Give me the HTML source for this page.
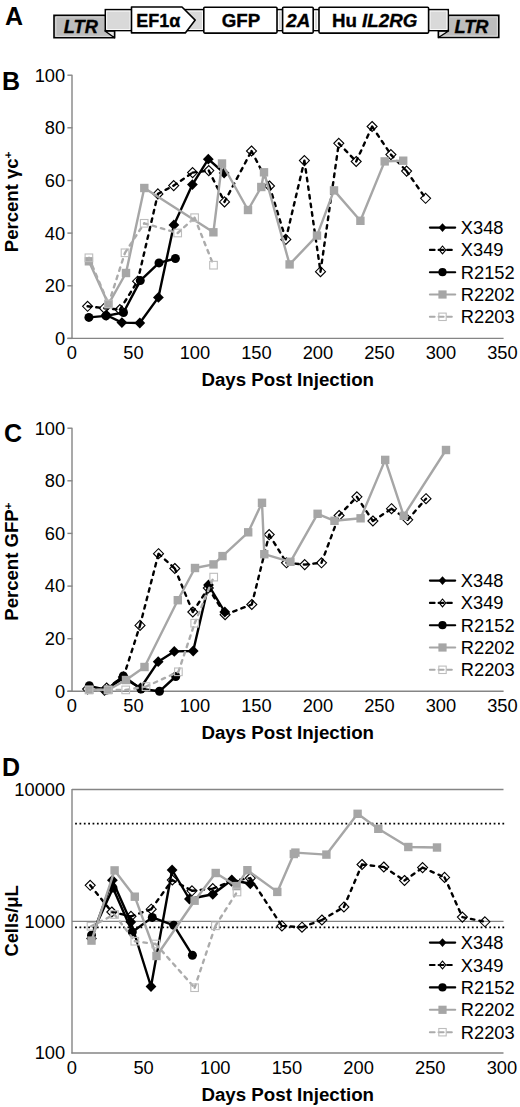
<!DOCTYPE html>
<html><head><meta charset="utf-8"><style>
html,body{margin:0;padding:0;background:#fff;}
body{width:520px;height:1107px;overflow:hidden;}
svg{display:block;font-family:"Liberation Sans", sans-serif;}
</style></head><body>
<svg width="520" height="1107" viewBox="0 0 520 1107" font-family='"Liberation Sans", sans-serif'>
<rect width="520" height="1107" fill="#fff"/>
<text transform="translate(5.00,24.80) scale(1.0,1)" font-size="25" font-weight="bold">A</text>
<polygon points="54,15.4 110,15.4 114.5,31 114.5,37.8 54,37.8" fill="#bdbdbd" stroke="#000" stroke-width="1.6"/>
<polyline points="104.5,16.9 55.9,16.9 55.9,36.3 112,36.3" fill="none" stroke="#dedede" stroke-width="0.9"/>
<polygon points="105,31 114.5,31 114.5,37.8" fill="#e8e8e8" stroke="#000" stroke-width="1.4" stroke-linejoin="round"/>
<polygon points="444,15.4 498.8,15.4 498.8,37.5 438.5,37.5 438.5,31" fill="#bdbdbd" stroke="#000" stroke-width="1.6"/>
<polyline points="449.5,16.9 497.3,16.9 497.3,36.0 441,36.0" fill="none" stroke="#dedede" stroke-width="0.9"/>
<polygon points="448.5,31 438.5,31 438.5,37.5" fill="#e8e8e8" stroke="#000" stroke-width="1.4" stroke-linejoin="round"/>
<rect x="105.3" y="9.6" width="343" height="21" fill="#d9d9d9" stroke="#000" stroke-width="1.5"/>
<rect x="106.7" y="11.1" width="23.4" height="18.4" fill="none" stroke="#fff" stroke-width="0.9"/>
<rect x="181.4" y="11.1" width="21.0" height="18.4" fill="none" stroke="#fff" stroke-width="0.9"/>
<rect x="278.4" y="11.1" width="2.8" height="18.4" fill="none" stroke="#fff" stroke-width="0.9"/>
<rect x="314.6" y="11.1" width="3.0" height="18.4" fill="none" stroke="#fff" stroke-width="0.9"/>
<rect x="430.0" y="11.1" width="16.9" height="18.4" fill="none" stroke="#fff" stroke-width="0.9"/>
<polygon points="131.5,7 182,7 195.2,20.1 185.3,32.9 131.5,32.9" fill="#fff" stroke="#000" stroke-width="1.6" stroke-linejoin="round"/>
<rect x="203.8" y="7.2" width="73.2" height="25.9" rx="1" fill="#fff" stroke="#000" stroke-width="1.6"/>
<rect x="282.6" y="7.2" width="30.6" height="25.9" rx="1" fill="#fff" stroke="#000" stroke-width="1.6"/>
<rect x="319" y="7.2" width="109.6" height="25.9" rx="1" fill="#fff" stroke="#000" stroke-width="1.6"/>
<text transform="translate(80.80,32.60) scale(1.04,1)" font-size="17.5" font-weight="bold" font-style="italic" text-anchor="middle" stroke="#000" stroke-width="0.35">LTR</text>
<text transform="translate(471.50,32.80) scale(1.04,1)" font-size="17.5" font-weight="bold" font-style="italic" text-anchor="middle" stroke="#000" stroke-width="0.35">LTR</text>
<text transform="translate(136.30,27.40) scale(1.0,1)" font-size="18" font-weight="bold" stroke="#000" stroke-width="0.35">EF1α</text>
<text transform="translate(240.90,27.40) scale(1.04,1)" font-size="18" font-weight="bold" text-anchor="middle" stroke="#000" stroke-width="0.35">GFP</text>
<text transform="translate(298.20,27.40) scale(1.04,1)" font-size="18" font-weight="bold" font-style="italic" text-anchor="middle" stroke="#000" stroke-width="0.35">2A</text>
<text transform="translate(374.60,27.40) scale(1.04,1)" font-size="18" font-weight="bold" text-anchor="middle" stroke="#000" stroke-width="0.35">Hu <tspan font-style="italic">IL2RG</tspan></text>
<text transform="translate(2.00,89.80) scale(1.0,1)" font-size="25" font-weight="bold">B</text>
<line x1="72" y1="75.2" x2="72" y2="338.9" stroke="#858585" stroke-width="1.4"/>
<line x1="67.4" y1="338.4" x2="503.6" y2="338.4" stroke="#858585" stroke-width="1.4"/>
<line x1="67.4" y1="338.4" x2="72.4" y2="338.4" stroke="#858585" stroke-width="1.4"/>
<text transform="translate(65.20,344.80) scale(1.04,1)" font-size="17.6" text-anchor="end">0</text>
<line x1="67.4" y1="285.8" x2="72.4" y2="285.8" stroke="#858585" stroke-width="1.4"/>
<text transform="translate(65.20,292.16) scale(1.04,1)" font-size="17.6" text-anchor="end">20</text>
<line x1="67.4" y1="233.1" x2="72.4" y2="233.1" stroke="#858585" stroke-width="1.4"/>
<text transform="translate(65.20,239.52) scale(1.04,1)" font-size="17.6" text-anchor="end">40</text>
<line x1="67.4" y1="180.5" x2="72.4" y2="180.5" stroke="#858585" stroke-width="1.4"/>
<text transform="translate(65.20,186.88) scale(1.04,1)" font-size="17.6" text-anchor="end">60</text>
<line x1="67.4" y1="127.8" x2="72.4" y2="127.8" stroke="#858585" stroke-width="1.4"/>
<text transform="translate(65.20,134.24) scale(1.04,1)" font-size="17.6" text-anchor="end">80</text>
<line x1="67.4" y1="75.2" x2="72.4" y2="75.2" stroke="#858585" stroke-width="1.4"/>
<text transform="translate(65.20,81.60) scale(1.04,1)" font-size="17.6" text-anchor="end">100</text>
<text transform="translate(71.90,359.40) scale(1.04,1)" font-size="17.6" text-anchor="middle">0</text>
<text transform="translate(133.40,359.40) scale(1.04,1)" font-size="17.6" text-anchor="middle">50</text>
<text transform="translate(194.90,359.40) scale(1.04,1)" font-size="17.6" text-anchor="middle">100</text>
<text transform="translate(256.40,359.40) scale(1.04,1)" font-size="17.6" text-anchor="middle">150</text>
<text transform="translate(317.90,359.40) scale(1.04,1)" font-size="17.6" text-anchor="middle">200</text>
<text transform="translate(379.40,359.40) scale(1.04,1)" font-size="17.6" text-anchor="middle">250</text>
<text transform="translate(440.90,359.40) scale(1.04,1)" font-size="17.6" text-anchor="middle">300</text>
<text transform="translate(502.40,359.40) scale(1.04,1)" font-size="17.6" text-anchor="middle">350</text>
<text transform="translate(287.70,386.40) scale(1.04,1)" font-size="18" font-weight="bold" text-anchor="middle">Days Post Injection</text>
<text transform="translate(18.40,201.80) rotate(-90) scale(1.03,1)" font-size="18" font-weight="bold" text-anchor="middle">Percent γc<tspan dy="-6.3" font-size="11.5">+</tspan></text>
<polyline points="106.3,315.0 121.9,322.6 139.8,323.0 158.4,297.4 173.9,224.9 192.4,184.6 208.3,159.2 224.1,173.0" fill="none" stroke="#000" stroke-width="2.4" stroke-linejoin="round"/>
<polygon points="106.3,309.6 111.7,315.0 106.3,320.4 100.9,315.0" fill="#000"/>
<polygon points="121.9,317.2 127.3,322.6 121.9,328.0 116.5,322.6" fill="#000"/>
<polygon points="139.8,317.6 145.2,323.0 139.8,328.4 134.4,323.0" fill="#000"/>
<polygon points="158.4,292.0 163.8,297.4 158.4,302.8 153.0,297.4" fill="#000"/>
<polygon points="173.9,219.5 179.3,224.9 173.9,230.3 168.5,224.9" fill="#000"/>
<polygon points="192.4,179.2 197.8,184.6 192.4,190.0 187.0,184.6" fill="#000"/>
<polygon points="208.3,153.8 213.7,159.2 208.3,164.6 202.9,159.2" fill="#000"/>
<polygon points="224.1,167.6 229.5,173.0 224.1,178.4 218.7,173.0" fill="#000"/>
<path d="M87.6 306.3L104.3 308.2 M104.3 308.2L119.9 309.6 M119.9 309.6L137.6 281.2 M137.6 281.2L157.9 193.9 M157.9 193.9L173.7 185.6 M173.7 185.6L192.6 172.6 M192.6 172.6L208.8 170.6 M208.8 170.6L224.5 201.9 M224.5 201.9L251.5 151.0 M251.5 151.0L269.5 186.0 M269.5 186.0L285.8 239.4 M285.8 239.4L304.4 160.6 M304.4 160.6L320.5 271.7 M320.5 271.7L338.8 143.3 M338.8 143.3L356.2 161.5 M356.2 161.5L372.1 126.5 M372.1 126.5L390.9 154.6 M390.9 154.6L406.6 171.1 M406.6 171.1L425.6 198.3" fill="none" stroke="#000" stroke-width="2.4" stroke-dasharray="3.5 5.2" stroke-linecap="round"/>
<polygon points="87.6,301.3 92.6,306.3 87.6,311.3 82.6,306.3" fill="none" stroke="#000" stroke-width="1.1"/>
<polygon points="104.3,303.2 109.3,308.2 104.3,313.2 99.3,308.2" fill="none" stroke="#000" stroke-width="1.1"/>
<polygon points="119.9,304.6 124.9,309.6 119.9,314.6 114.9,309.6" fill="none" stroke="#000" stroke-width="1.1"/>
<polygon points="137.6,276.2 142.6,281.2 137.6,286.2 132.6,281.2" fill="none" stroke="#000" stroke-width="1.1"/>
<polygon points="157.9,188.9 162.9,193.9 157.9,198.9 152.9,193.9" fill="none" stroke="#000" stroke-width="1.1"/>
<polygon points="173.7,180.6 178.7,185.6 173.7,190.6 168.7,185.6" fill="none" stroke="#000" stroke-width="1.1"/>
<polygon points="192.6,167.6 197.6,172.6 192.6,177.6 187.6,172.6" fill="none" stroke="#000" stroke-width="1.1"/>
<polygon points="208.8,165.6 213.8,170.6 208.8,175.6 203.8,170.6" fill="none" stroke="#000" stroke-width="1.1"/>
<polygon points="224.5,196.9 229.5,201.9 224.5,206.9 219.5,201.9" fill="none" stroke="#000" stroke-width="1.1"/>
<polygon points="251.5,146.0 256.5,151.0 251.5,156.0 246.5,151.0" fill="none" stroke="#000" stroke-width="1.1"/>
<polygon points="269.5,181.0 274.5,186.0 269.5,191.0 264.5,186.0" fill="none" stroke="#000" stroke-width="1.1"/>
<polygon points="285.8,234.4 290.8,239.4 285.8,244.4 280.8,239.4" fill="none" stroke="#000" stroke-width="1.1"/>
<polygon points="304.4,155.6 309.4,160.6 304.4,165.6 299.4,160.6" fill="none" stroke="#000" stroke-width="1.1"/>
<polygon points="320.5,266.7 325.5,271.7 320.5,276.7 315.5,271.7" fill="none" stroke="#000" stroke-width="1.1"/>
<polygon points="338.8,138.3 343.8,143.3 338.8,148.3 333.8,143.3" fill="none" stroke="#000" stroke-width="1.1"/>
<polygon points="356.2,156.5 361.2,161.5 356.2,166.5 351.2,161.5" fill="none" stroke="#000" stroke-width="1.1"/>
<polygon points="372.1,121.5 377.1,126.5 372.1,131.5 367.1,126.5" fill="none" stroke="#000" stroke-width="1.1"/>
<polygon points="390.9,149.6 395.9,154.6 390.9,159.6 385.9,154.6" fill="none" stroke="#000" stroke-width="1.1"/>
<polygon points="406.6,166.1 411.6,171.1 406.6,176.1 401.6,171.1" fill="none" stroke="#000" stroke-width="1.1"/>
<polygon points="425.6,193.3 430.6,198.3 425.6,203.3 420.6,198.3" fill="none" stroke="#000" stroke-width="1.1"/>
<polyline points="88.9,317.4 106.0,315.9 123.5,312.5 140.3,280.6 159.0,262.9 175.4,258.5" fill="none" stroke="#000" stroke-width="2.4" stroke-linejoin="round"/>
<circle cx="88.9" cy="317.4" r="4.5" fill="#000"/>
<circle cx="106.0" cy="315.9" r="4.5" fill="#000"/>
<circle cx="123.5" cy="312.5" r="4.5" fill="#000"/>
<circle cx="140.3" cy="280.6" r="4.5" fill="#000"/>
<circle cx="159.0" cy="262.9" r="4.5" fill="#000"/>
<circle cx="175.4" cy="258.5" r="4.5" fill="#000"/>
<polyline points="88.9,261.3 108.5,304.2 126.0,273.0 144.3,188.0 213.4,232.3 222.0,163.5 248.0,210.0 261.3,187.0 264.0,172.3 289.6,264.4 317.0,235.6 334.0,190.4 360.4,220.8 384.7,161.4 403.2,160.7" fill="none" stroke="#a6a6a6" stroke-width="2.4" stroke-linejoin="round"/>
<rect x="84.7" y="257.1" width="8.4" height="8.4" fill="#a6a6a6"/>
<rect x="104.3" y="300.0" width="8.4" height="8.4" fill="#a6a6a6"/>
<rect x="121.8" y="268.8" width="8.4" height="8.4" fill="#a6a6a6"/>
<rect x="140.1" y="183.8" width="8.4" height="8.4" fill="#a6a6a6"/>
<rect x="209.2" y="228.1" width="8.4" height="8.4" fill="#a6a6a6"/>
<rect x="217.8" y="159.3" width="8.4" height="8.4" fill="#a6a6a6"/>
<rect x="243.8" y="205.8" width="8.4" height="8.4" fill="#a6a6a6"/>
<rect x="257.1" y="182.8" width="8.4" height="8.4" fill="#a6a6a6"/>
<rect x="259.8" y="168.1" width="8.4" height="8.4" fill="#a6a6a6"/>
<rect x="285.4" y="260.2" width="8.4" height="8.4" fill="#a6a6a6"/>
<rect x="312.8" y="231.4" width="8.4" height="8.4" fill="#a6a6a6"/>
<rect x="329.8" y="186.2" width="8.4" height="8.4" fill="#a6a6a6"/>
<rect x="356.2" y="216.6" width="8.4" height="8.4" fill="#a6a6a6"/>
<rect x="380.5" y="157.2" width="8.4" height="8.4" fill="#a6a6a6"/>
<rect x="399.0" y="156.5" width="8.4" height="8.4" fill="#a6a6a6"/>
<path d="M88.9 257.8L108.5 303.9 M108.5 303.9L125.0 252.8 M125.0 252.8L144.2 223.3 M144.2 223.3L177.7 233.0 M177.7 233.0L194.6 217.7 M194.6 217.7L213.5 265.2" fill="none" stroke="#ababab" stroke-width="2.4" stroke-dasharray="3.5 5.2" stroke-linecap="round"/>
<rect x="85.1" y="254.0" width="7.6" height="7.6" fill="none" stroke="#bdbdbd" stroke-width="1.1"/>
<rect x="104.7" y="300.1" width="7.6" height="7.6" fill="none" stroke="#bdbdbd" stroke-width="1.1"/>
<rect x="121.2" y="249.0" width="7.6" height="7.6" fill="none" stroke="#bdbdbd" stroke-width="1.1"/>
<rect x="140.4" y="219.5" width="7.6" height="7.6" fill="none" stroke="#bdbdbd" stroke-width="1.1"/>
<rect x="173.9" y="229.2" width="7.6" height="7.6" fill="none" stroke="#bdbdbd" stroke-width="1.1"/>
<rect x="190.8" y="213.9" width="7.6" height="7.6" fill="none" stroke="#bdbdbd" stroke-width="1.1"/>
<rect x="209.7" y="261.4" width="7.6" height="7.6" fill="none" stroke="#bdbdbd" stroke-width="1.1"/>
<line x1="429.9" y1="227.6" x2="455.2" y2="227.6" stroke="#000" stroke-width="2.1" stroke-linecap="round"/>
<polygon points="442.5,223.2 446.4,227.6 442.5,232.0 438.6,227.6" fill="#000"/>
<text transform="translate(460.80,234.10) scale(1.04,1)" font-size="17.6">X348</text>
<line x1="429.9" y1="249.9" x2="434.6" y2="249.9" stroke="#000" stroke-width="2.1" stroke-linecap="round"/>
<line x1="438.6" y1="249.9" x2="443.6" y2="249.9" stroke="#000" stroke-width="2.1" stroke-linecap="round"/>
<line x1="447.1" y1="249.9" x2="451.8" y2="249.9" stroke="#000" stroke-width="2.1" stroke-linecap="round"/>
<polygon points="442.5,246.0 445.8,249.9 442.5,253.8 439.2,249.9" fill="none" stroke="#000" stroke-width="1.1"/>
<text transform="translate(460.80,256.40) scale(1.04,1)" font-size="17.6">X349</text>
<line x1="429.9" y1="272.2" x2="455.2" y2="272.2" stroke="#000" stroke-width="2.1" stroke-linecap="round"/>
<circle cx="442.5" cy="272.2" r="4.1" fill="#000"/>
<text transform="translate(460.80,278.70) scale(1.04,1)" font-size="17.6">R2152</text>
<line x1="429.9" y1="294.5" x2="455.2" y2="294.5" stroke="#a6a6a6" stroke-width="2.1" stroke-linecap="round"/>
<rect x="438.4" y="290.4" width="8.2" height="8.2" fill="#a6a6a6"/>
<text transform="translate(460.80,301.00) scale(1.04,1)" font-size="17.6">R2202</text>
<line x1="429.9" y1="316.8" x2="434.6" y2="316.8" stroke="#ababab" stroke-width="2.1" stroke-linecap="round"/>
<line x1="438.6" y1="316.8" x2="443.6" y2="316.8" stroke="#ababab" stroke-width="2.1" stroke-linecap="round"/>
<line x1="447.1" y1="316.8" x2="451.8" y2="316.8" stroke="#ababab" stroke-width="2.1" stroke-linecap="round"/>
<rect x="438.8" y="313.1" width="7.4" height="7.4" fill="none" stroke="#bdbdbd" stroke-width="1.1"/>
<text transform="translate(460.80,323.30) scale(1.04,1)" font-size="17.6">R2203</text>
<text transform="translate(4.00,441.50) scale(1.0,1)" font-size="25" font-weight="bold">C</text>
<line x1="72" y1="428.2" x2="72" y2="691.8" stroke="#858585" stroke-width="1.4"/>
<line x1="67.4" y1="691.3" x2="503.6" y2="691.3" stroke="#858585" stroke-width="1.4"/>
<line x1="67.4" y1="691.3" x2="72.4" y2="691.3" stroke="#858585" stroke-width="1.4"/>
<text transform="translate(65.20,697.70) scale(1.04,1)" font-size="17.6" text-anchor="end">0</text>
<line x1="67.4" y1="638.7" x2="72.4" y2="638.7" stroke="#858585" stroke-width="1.4"/>
<text transform="translate(65.20,645.08) scale(1.04,1)" font-size="17.6" text-anchor="end">20</text>
<line x1="67.4" y1="586.1" x2="72.4" y2="586.1" stroke="#858585" stroke-width="1.4"/>
<text transform="translate(65.20,592.46) scale(1.04,1)" font-size="17.6" text-anchor="end">40</text>
<line x1="67.4" y1="533.4" x2="72.4" y2="533.4" stroke="#858585" stroke-width="1.4"/>
<text transform="translate(65.20,539.84) scale(1.04,1)" font-size="17.6" text-anchor="end">60</text>
<line x1="67.4" y1="480.8" x2="72.4" y2="480.8" stroke="#858585" stroke-width="1.4"/>
<text transform="translate(65.20,487.22) scale(1.04,1)" font-size="17.6" text-anchor="end">80</text>
<line x1="67.4" y1="428.2" x2="72.4" y2="428.2" stroke="#858585" stroke-width="1.4"/>
<text transform="translate(65.20,434.60) scale(1.04,1)" font-size="17.6" text-anchor="end">100</text>
<text transform="translate(71.90,712.30) scale(1.04,1)" font-size="17.6" text-anchor="middle">0</text>
<text transform="translate(133.40,712.30) scale(1.04,1)" font-size="17.6" text-anchor="middle">50</text>
<text transform="translate(194.90,712.30) scale(1.04,1)" font-size="17.6" text-anchor="middle">100</text>
<text transform="translate(256.40,712.30) scale(1.04,1)" font-size="17.6" text-anchor="middle">150</text>
<text transform="translate(317.90,712.30) scale(1.04,1)" font-size="17.6" text-anchor="middle">200</text>
<text transform="translate(379.40,712.30) scale(1.04,1)" font-size="17.6" text-anchor="middle">250</text>
<text transform="translate(440.90,712.30) scale(1.04,1)" font-size="17.6" text-anchor="middle">300</text>
<text transform="translate(502.40,712.30) scale(1.04,1)" font-size="17.6" text-anchor="middle">350</text>
<text transform="translate(287.70,739.30) scale(1.04,1)" font-size="18" font-weight="bold" text-anchor="middle">Days Post Injection</text>
<text transform="translate(18.40,561.60) rotate(-90) scale(1.03,1)" font-size="18" font-weight="bold" text-anchor="middle">Percent GFP<tspan dy="-6.3" font-size="11.5">+</tspan></text>
<polyline points="104.5,690.5 123.5,678.0 140.5,688.0 158.2,661.7 174.3,651.4 193.2,651.0 208.5,585.0 224.8,612.0" fill="none" stroke="#000" stroke-width="2.4" stroke-linejoin="round"/>
<polygon points="104.5,685.1 109.9,690.5 104.5,695.9 99.1,690.5" fill="#000"/>
<polygon points="123.5,672.6 128.9,678.0 123.5,683.4 118.1,678.0" fill="#000"/>
<polygon points="140.5,682.6 145.9,688.0 140.5,693.4 135.1,688.0" fill="#000"/>
<polygon points="158.2,656.3 163.6,661.7 158.2,667.1 152.8,661.7" fill="#000"/>
<polygon points="174.3,646.0 179.7,651.4 174.3,656.8 168.9,651.4" fill="#000"/>
<polygon points="193.2,645.6 198.6,651.0 193.2,656.4 187.8,651.0" fill="#000"/>
<polygon points="208.5,579.6 213.9,585.0 208.5,590.4 203.1,585.0" fill="#000"/>
<polygon points="224.8,606.6 230.2,612.0 224.8,617.4 219.4,612.0" fill="#000"/>
<path d="M87.6 689.0L106.6 688.0 M106.6 688.0L123.5 677.0 M123.5 677.0L140.0 625.4 M140.0 625.4L158.5 553.7 M158.5 553.7L174.8 568.5 M174.8 568.5L192.8 612.0 M192.8 612.0L208.3 588.0 M208.3 588.0L225.1 614.7 M225.1 614.7L251.8 604.5 M251.8 604.5L269.2 534.6 M269.2 534.6L286.5 562.8 M286.5 562.8L304.7 564.6 M304.7 564.6L321.5 562.8 M321.5 562.8L339.1 515.5 M339.1 515.5L356.9 496.8 M356.9 496.8L372.9 521.0 M372.9 521.0L391.5 508.7 M391.5 508.7L407.7 519.8 M407.7 519.8L426.0 498.7" fill="none" stroke="#000" stroke-width="2.4" stroke-dasharray="3.5 5.2" stroke-linecap="round"/>
<polygon points="87.6,684.0 92.6,689.0 87.6,694.0 82.6,689.0" fill="none" stroke="#000" stroke-width="1.1"/>
<polygon points="106.6,683.0 111.6,688.0 106.6,693.0 101.6,688.0" fill="none" stroke="#000" stroke-width="1.1"/>
<polygon points="123.5,672.0 128.5,677.0 123.5,682.0 118.5,677.0" fill="none" stroke="#000" stroke-width="1.1"/>
<polygon points="140.0,620.4 145.0,625.4 140.0,630.4 135.0,625.4" fill="none" stroke="#000" stroke-width="1.1"/>
<polygon points="158.5,548.7 163.5,553.7 158.5,558.7 153.5,553.7" fill="none" stroke="#000" stroke-width="1.1"/>
<polygon points="174.8,563.5 179.8,568.5 174.8,573.5 169.8,568.5" fill="none" stroke="#000" stroke-width="1.1"/>
<polygon points="192.8,607.0 197.8,612.0 192.8,617.0 187.8,612.0" fill="none" stroke="#000" stroke-width="1.1"/>
<polygon points="208.3,583.0 213.3,588.0 208.3,593.0 203.3,588.0" fill="none" stroke="#000" stroke-width="1.1"/>
<polygon points="225.1,609.7 230.1,614.7 225.1,619.7 220.1,614.7" fill="none" stroke="#000" stroke-width="1.1"/>
<polygon points="251.8,599.5 256.8,604.5 251.8,609.5 246.8,604.5" fill="none" stroke="#000" stroke-width="1.1"/>
<polygon points="269.2,529.6 274.2,534.6 269.2,539.6 264.2,534.6" fill="none" stroke="#000" stroke-width="1.1"/>
<polygon points="286.5,557.8 291.5,562.8 286.5,567.8 281.5,562.8" fill="none" stroke="#000" stroke-width="1.1"/>
<polygon points="304.7,559.6 309.7,564.6 304.7,569.6 299.7,564.6" fill="none" stroke="#000" stroke-width="1.1"/>
<polygon points="321.5,557.8 326.5,562.8 321.5,567.8 316.5,562.8" fill="none" stroke="#000" stroke-width="1.1"/>
<polygon points="339.1,510.5 344.1,515.5 339.1,520.5 334.1,515.5" fill="none" stroke="#000" stroke-width="1.1"/>
<polygon points="356.9,491.8 361.9,496.8 356.9,501.8 351.9,496.8" fill="none" stroke="#000" stroke-width="1.1"/>
<polygon points="372.9,516.0 377.9,521.0 372.9,526.0 367.9,521.0" fill="none" stroke="#000" stroke-width="1.1"/>
<polygon points="391.5,503.7 396.5,508.7 391.5,513.7 386.5,508.7" fill="none" stroke="#000" stroke-width="1.1"/>
<polygon points="407.7,514.8 412.7,519.8 407.7,524.8 402.7,519.8" fill="none" stroke="#000" stroke-width="1.1"/>
<polygon points="426.0,493.7 431.0,498.7 426.0,503.7 421.0,498.7" fill="none" stroke="#000" stroke-width="1.1"/>
<polyline points="89.3,685.8 106.5,690.0 123.3,676.0 141.0,689.0 159.5,691.3 175.7,676.5" fill="none" stroke="#000" stroke-width="2.4" stroke-linejoin="round"/>
<circle cx="89.3" cy="685.8" r="4.5" fill="#000"/>
<circle cx="106.5" cy="690.0" r="4.5" fill="#000"/>
<circle cx="123.3" cy="676.0" r="4.5" fill="#000"/>
<circle cx="141.0" cy="689.0" r="4.5" fill="#000"/>
<circle cx="159.5" cy="691.3" r="4.5" fill="#000"/>
<circle cx="175.7" cy="676.5" r="4.5" fill="#000"/>
<polyline points="89.3,689.8 108.5,689.8 126.0,680.0 144.5,667.0 177.8,600.2 195.0,568.0 213.5,564.4 222.5,556.1 248.2,532.3 262.0,502.8 264.3,554.2 290.4,561.8 317.6,513.8 334.5,520.8 360.6,518.3 385.2,459.9 403.7,515.8 446.0,450.0" fill="none" stroke="#a6a6a6" stroke-width="2.4" stroke-linejoin="round"/>
<rect x="85.1" y="685.6" width="8.4" height="8.4" fill="#a6a6a6"/>
<rect x="104.3" y="685.6" width="8.4" height="8.4" fill="#a6a6a6"/>
<rect x="121.8" y="675.8" width="8.4" height="8.4" fill="#a6a6a6"/>
<rect x="140.3" y="662.8" width="8.4" height="8.4" fill="#a6a6a6"/>
<rect x="173.6" y="596.0" width="8.4" height="8.4" fill="#a6a6a6"/>
<rect x="190.8" y="563.8" width="8.4" height="8.4" fill="#a6a6a6"/>
<rect x="209.3" y="560.2" width="8.4" height="8.4" fill="#a6a6a6"/>
<rect x="218.3" y="551.9" width="8.4" height="8.4" fill="#a6a6a6"/>
<rect x="244.0" y="528.1" width="8.4" height="8.4" fill="#a6a6a6"/>
<rect x="257.8" y="498.6" width="8.4" height="8.4" fill="#a6a6a6"/>
<rect x="260.1" y="550.0" width="8.4" height="8.4" fill="#a6a6a6"/>
<rect x="286.2" y="557.6" width="8.4" height="8.4" fill="#a6a6a6"/>
<rect x="313.4" y="509.6" width="8.4" height="8.4" fill="#a6a6a6"/>
<rect x="330.3" y="516.6" width="8.4" height="8.4" fill="#a6a6a6"/>
<rect x="356.4" y="514.1" width="8.4" height="8.4" fill="#a6a6a6"/>
<rect x="381.0" y="455.7" width="8.4" height="8.4" fill="#a6a6a6"/>
<rect x="399.5" y="511.6" width="8.4" height="8.4" fill="#a6a6a6"/>
<rect x="441.8" y="445.8" width="8.4" height="8.4" fill="#a6a6a6"/>
<path d="M89.0 690.0L108.0 690.0 M108.0 690.0L125.7 689.9 M125.7 689.9L146.0 686.6 M146.0 686.6L178.4 671.8 M178.4 671.8L194.7 623.2 M194.7 623.2L213.7 577.1" fill="none" stroke="#ababab" stroke-width="2.4" stroke-dasharray="3.5 5.2" stroke-linecap="round"/>
<rect x="85.2" y="686.2" width="7.6" height="7.6" fill="none" stroke="#bdbdbd" stroke-width="1.1"/>
<rect x="104.2" y="686.2" width="7.6" height="7.6" fill="none" stroke="#bdbdbd" stroke-width="1.1"/>
<rect x="121.9" y="686.1" width="7.6" height="7.6" fill="none" stroke="#bdbdbd" stroke-width="1.1"/>
<rect x="142.2" y="682.8" width="7.6" height="7.6" fill="none" stroke="#bdbdbd" stroke-width="1.1"/>
<rect x="174.6" y="668.0" width="7.6" height="7.6" fill="none" stroke="#bdbdbd" stroke-width="1.1"/>
<rect x="190.9" y="619.4" width="7.6" height="7.6" fill="none" stroke="#bdbdbd" stroke-width="1.1"/>
<rect x="209.9" y="573.3" width="7.6" height="7.6" fill="none" stroke="#bdbdbd" stroke-width="1.1"/>
<line x1="429.9" y1="580.6" x2="455.2" y2="580.6" stroke="#000" stroke-width="2.1" stroke-linecap="round"/>
<polygon points="442.5,576.2 446.4,580.6 442.5,585.0 438.6,580.6" fill="#000"/>
<text transform="translate(460.80,587.10) scale(1.04,1)" font-size="17.6">X348</text>
<line x1="429.9" y1="602.9" x2="434.6" y2="602.9" stroke="#000" stroke-width="2.1" stroke-linecap="round"/>
<line x1="438.6" y1="602.9" x2="443.6" y2="602.9" stroke="#000" stroke-width="2.1" stroke-linecap="round"/>
<line x1="447.1" y1="602.9" x2="451.8" y2="602.9" stroke="#000" stroke-width="2.1" stroke-linecap="round"/>
<polygon points="442.5,599.0 445.8,602.9 442.5,606.8 439.2,602.9" fill="none" stroke="#000" stroke-width="1.1"/>
<text transform="translate(460.80,609.40) scale(1.04,1)" font-size="17.6">X349</text>
<line x1="429.9" y1="625.2" x2="455.2" y2="625.2" stroke="#000" stroke-width="2.1" stroke-linecap="round"/>
<circle cx="442.5" cy="625.2" r="4.1" fill="#000"/>
<text transform="translate(460.80,631.70) scale(1.04,1)" font-size="17.6">R2152</text>
<line x1="429.9" y1="647.5" x2="455.2" y2="647.5" stroke="#a6a6a6" stroke-width="2.1" stroke-linecap="round"/>
<rect x="438.4" y="643.4" width="8.2" height="8.2" fill="#a6a6a6"/>
<text transform="translate(460.80,654.00) scale(1.04,1)" font-size="17.6">R2202</text>
<line x1="429.9" y1="669.8" x2="434.6" y2="669.8" stroke="#ababab" stroke-width="2.1" stroke-linecap="round"/>
<line x1="438.6" y1="669.8" x2="443.6" y2="669.8" stroke="#ababab" stroke-width="2.1" stroke-linecap="round"/>
<line x1="447.1" y1="669.8" x2="451.8" y2="669.8" stroke="#ababab" stroke-width="2.1" stroke-linecap="round"/>
<rect x="438.8" y="666.1" width="7.4" height="7.4" fill="none" stroke="#bdbdbd" stroke-width="1.1"/>
<text transform="translate(460.80,676.30) scale(1.04,1)" font-size="17.6">R2203</text>
<text transform="translate(2.00,776.00) scale(1.0,1)" font-size="25" font-weight="bold">D</text>
<line x1="72" y1="789.5" x2="503.5" y2="789.5" stroke="#858585" stroke-width="1.3"/>
<line x1="72" y1="921.4" x2="503.5" y2="921.4" stroke="#858585" stroke-width="1.3"/>
<line x1="72" y1="788.9" x2="72" y2="1053.5" stroke="#858585" stroke-width="1.4"/>
<line x1="71.4" y1="1053.0" x2="503.5" y2="1053.0" stroke="#858585" stroke-width="1.4"/>
<line x1="72.7" y1="823.6" x2="504.3" y2="823.6" stroke="#000" stroke-width="1.8" stroke-dasharray="1.75 2.61" stroke-dashoffset="1.93"/>
<line x1="72.7" y1="927.4" x2="504.3" y2="927.4" stroke="#000" stroke-width="1.8" stroke-dasharray="1.75 2.61" stroke-dashoffset="1.93"/>
<text transform="translate(65.20,795.90) scale(1.04,1)" font-size="17.6" text-anchor="end">10000</text>
<text transform="translate(65.20,927.80) scale(1.04,1)" font-size="17.6" text-anchor="end">1000</text>
<text transform="translate(65.20,1059.40) scale(1.04,1)" font-size="17.6" text-anchor="end">100</text>
<text transform="translate(71.90,1074.00) scale(1.04,1)" font-size="17.6" text-anchor="middle">0</text>
<text transform="translate(143.57,1074.00) scale(1.04,1)" font-size="17.6" text-anchor="middle">50</text>
<text transform="translate(215.24,1074.00) scale(1.04,1)" font-size="17.6" text-anchor="middle">100</text>
<text transform="translate(286.91,1074.00) scale(1.04,1)" font-size="17.6" text-anchor="middle">150</text>
<text transform="translate(358.58,1074.00) scale(1.04,1)" font-size="17.6" text-anchor="middle">200</text>
<text transform="translate(430.25,1074.00) scale(1.04,1)" font-size="17.6" text-anchor="middle">250</text>
<text transform="translate(501.92,1074.00) scale(1.04,1)" font-size="17.6" text-anchor="middle">300</text>
<text transform="translate(287.70,1101.00) scale(1.04,1)" font-size="18" font-weight="bold" text-anchor="middle">Days Post Injection</text>
<text transform="translate(18.40,920.90) rotate(-90) scale(1.02,1)" font-size="18" font-weight="bold" text-anchor="middle">Cells/μL</text>
<polyline points="91.5,938.5 112.4,880.2 130.8,922.0 151.0,986.5 172.1,870.0 189.4,899.0 212.8,894.3 231.8,880.0 250.3,883.8" fill="none" stroke="#000" stroke-width="2.4" stroke-linejoin="round"/>
<polygon points="91.5,933.1 96.9,938.5 91.5,943.9 86.1,938.5" fill="#000"/>
<polygon points="112.4,874.8 117.8,880.2 112.4,885.6 107.0,880.2" fill="#000"/>
<polygon points="130.8,916.6 136.2,922.0 130.8,927.4 125.4,922.0" fill="#000"/>
<polygon points="151.0,981.1 156.4,986.5 151.0,991.9 145.6,986.5" fill="#000"/>
<polygon points="172.1,864.6 177.5,870.0 172.1,875.4 166.7,870.0" fill="#000"/>
<polygon points="189.4,893.6 194.8,899.0 189.4,904.4 184.0,899.0" fill="#000"/>
<polygon points="212.8,888.9 218.2,894.3 212.8,899.7 207.4,894.3" fill="#000"/>
<polygon points="231.8,874.6 237.2,880.0 231.8,885.4 226.4,880.0" fill="#000"/>
<polygon points="250.3,878.4 255.7,883.8 250.3,889.2 244.9,883.8" fill="#000"/>
<path d="M90.2 885.3L111.8 912.0 M111.8 912.0L131.0 916.3 M131.0 916.3L151.2 909.2 M151.2 909.2L172.3 880.0 M172.3 880.0L192.0 890.8 M192.0 890.8L212.8 888.6 M212.8 888.6L231.5 881.0 M231.5 881.0L250.3 878.1 M250.3 878.1L281.9 925.9 M281.9 925.9L302.0 927.2 M302.0 927.2L321.9 920.0 M321.9 920.0L343.9 907.0 M343.9 907.0L362.0 864.5 M362.0 864.5L383.8 867.0 M383.8 867.0L404.5 880.5 M404.5 880.5L422.6 867.6 M422.6 867.6L444.6 877.4 M444.6 877.4L462.4 917.1 M462.4 917.1L484.9 921.8" fill="none" stroke="#000" stroke-width="2.4" stroke-dasharray="3.5 5.2" stroke-linecap="round"/>
<polygon points="90.2,880.3 95.2,885.3 90.2,890.3 85.2,885.3" fill="none" stroke="#000" stroke-width="1.1"/>
<polygon points="111.8,907.0 116.8,912.0 111.8,917.0 106.8,912.0" fill="none" stroke="#000" stroke-width="1.1"/>
<polygon points="131.0,911.3 136.0,916.3 131.0,921.3 126.0,916.3" fill="none" stroke="#000" stroke-width="1.1"/>
<polygon points="151.2,904.2 156.2,909.2 151.2,914.2 146.2,909.2" fill="none" stroke="#000" stroke-width="1.1"/>
<polygon points="172.3,875.0 177.3,880.0 172.3,885.0 167.3,880.0" fill="none" stroke="#000" stroke-width="1.1"/>
<polygon points="192.0,885.8 197.0,890.8 192.0,895.8 187.0,890.8" fill="none" stroke="#000" stroke-width="1.1"/>
<polygon points="212.8,883.6 217.8,888.6 212.8,893.6 207.8,888.6" fill="none" stroke="#000" stroke-width="1.1"/>
<polygon points="231.5,876.0 236.5,881.0 231.5,886.0 226.5,881.0" fill="none" stroke="#000" stroke-width="1.1"/>
<polygon points="250.3,873.1 255.3,878.1 250.3,883.1 245.3,878.1" fill="none" stroke="#000" stroke-width="1.1"/>
<polygon points="281.9,920.9 286.9,925.9 281.9,930.9 276.9,925.9" fill="none" stroke="#000" stroke-width="1.1"/>
<polygon points="302.0,922.2 307.0,927.2 302.0,932.2 297.0,927.2" fill="none" stroke="#000" stroke-width="1.1"/>
<polygon points="321.9,915.0 326.9,920.0 321.9,925.0 316.9,920.0" fill="none" stroke="#000" stroke-width="1.1"/>
<polygon points="343.9,902.0 348.9,907.0 343.9,912.0 338.9,907.0" fill="none" stroke="#000" stroke-width="1.1"/>
<polygon points="362.0,859.5 367.0,864.5 362.0,869.5 357.0,864.5" fill="none" stroke="#000" stroke-width="1.1"/>
<polygon points="383.8,862.0 388.8,867.0 383.8,872.0 378.8,867.0" fill="none" stroke="#000" stroke-width="1.1"/>
<polygon points="404.5,875.5 409.5,880.5 404.5,885.5 399.5,880.5" fill="none" stroke="#000" stroke-width="1.1"/>
<polygon points="422.6,862.6 427.6,867.6 422.6,872.6 417.6,867.6" fill="none" stroke="#000" stroke-width="1.1"/>
<polygon points="444.6,872.4 449.6,877.4 444.6,882.4 439.6,877.4" fill="none" stroke="#000" stroke-width="1.1"/>
<polygon points="462.4,912.1 467.4,917.1 462.4,922.1 457.4,917.1" fill="none" stroke="#000" stroke-width="1.1"/>
<polygon points="484.9,916.8 489.9,921.8 484.9,926.8 479.9,921.8" fill="none" stroke="#000" stroke-width="1.1"/>
<polyline points="91.5,935.3 113.0,888.0 132.3,932.0 152.3,917.4 173.8,925.3 192.4,955.2" fill="none" stroke="#000" stroke-width="2.4" stroke-linejoin="round"/>
<circle cx="91.5" cy="935.3" r="4.5" fill="#000"/>
<circle cx="113.0" cy="888.0" r="4.5" fill="#000"/>
<circle cx="132.3" cy="932.0" r="4.5" fill="#000"/>
<circle cx="152.3" cy="917.4" r="4.5" fill="#000"/>
<circle cx="173.8" cy="925.3" r="4.5" fill="#000"/>
<circle cx="192.4" cy="955.2" r="4.5" fill="#000"/>
<polyline points="91.5,940.6 114.6,870.4 134.8,896.7 156.5,956.0 194.6,900.7 215.7,873.0 236.6,886.1 247.4,870.2 277.3,891.9 293.8,854.0 295.4,852.6 326.4,854.6 357.6,813.8 378.3,828.8 408.3,847.0 437.0,847.5" fill="none" stroke="#a6a6a6" stroke-width="2.4" stroke-linejoin="round"/>
<rect x="87.3" y="936.4" width="8.4" height="8.4" fill="#a6a6a6"/>
<rect x="110.4" y="866.2" width="8.4" height="8.4" fill="#a6a6a6"/>
<rect x="130.6" y="892.5" width="8.4" height="8.4" fill="#a6a6a6"/>
<rect x="152.3" y="951.8" width="8.4" height="8.4" fill="#a6a6a6"/>
<rect x="190.4" y="896.5" width="8.4" height="8.4" fill="#a6a6a6"/>
<rect x="211.5" y="868.8" width="8.4" height="8.4" fill="#a6a6a6"/>
<rect x="232.4" y="881.9" width="8.4" height="8.4" fill="#a6a6a6"/>
<rect x="243.2" y="866.0" width="8.4" height="8.4" fill="#a6a6a6"/>
<rect x="273.1" y="887.7" width="8.4" height="8.4" fill="#a6a6a6"/>
<rect x="289.6" y="849.8" width="8.4" height="8.4" fill="#a6a6a6"/>
<rect x="291.2" y="848.4" width="8.4" height="8.4" fill="#a6a6a6"/>
<rect x="322.2" y="850.4" width="8.4" height="8.4" fill="#a6a6a6"/>
<rect x="353.4" y="809.6" width="8.4" height="8.4" fill="#a6a6a6"/>
<rect x="374.1" y="824.6" width="8.4" height="8.4" fill="#a6a6a6"/>
<rect x="404.1" y="842.8" width="8.4" height="8.4" fill="#a6a6a6"/>
<rect x="432.8" y="843.3" width="8.4" height="8.4" fill="#a6a6a6"/>
<path d="M91.0 926.3L114.5 914.5 M114.5 914.5L134.8 941.2 M134.8 941.2L155.7 944.0 M155.7 944.0L194.6 987.7 M194.6 987.7L215.4 925.8 M215.4 925.8L237.0 892.0" fill="none" stroke="#ababab" stroke-width="2.4" stroke-dasharray="3.5 5.2" stroke-linecap="round"/>
<rect x="87.2" y="922.5" width="7.6" height="7.6" fill="none" stroke="#bdbdbd" stroke-width="1.1"/>
<rect x="110.7" y="910.7" width="7.6" height="7.6" fill="none" stroke="#bdbdbd" stroke-width="1.1"/>
<rect x="131.0" y="937.4" width="7.6" height="7.6" fill="none" stroke="#bdbdbd" stroke-width="1.1"/>
<rect x="151.9" y="940.2" width="7.6" height="7.6" fill="none" stroke="#bdbdbd" stroke-width="1.1"/>
<rect x="190.8" y="983.9" width="7.6" height="7.6" fill="none" stroke="#bdbdbd" stroke-width="1.1"/>
<rect x="211.6" y="922.0" width="7.6" height="7.6" fill="none" stroke="#bdbdbd" stroke-width="1.1"/>
<rect x="233.2" y="888.2" width="7.6" height="7.6" fill="none" stroke="#bdbdbd" stroke-width="1.1"/>
<line x1="429.9" y1="942.6" x2="455.2" y2="942.6" stroke="#000" stroke-width="2.1" stroke-linecap="round"/>
<polygon points="442.5,938.2 446.4,942.6 442.5,947.0 438.6,942.6" fill="#000"/>
<text transform="translate(460.80,949.10) scale(1.04,1)" font-size="17.6">X348</text>
<line x1="429.9" y1="965.0" x2="434.6" y2="965.0" stroke="#000" stroke-width="2.1" stroke-linecap="round"/>
<line x1="438.6" y1="965.0" x2="443.6" y2="965.0" stroke="#000" stroke-width="2.1" stroke-linecap="round"/>
<line x1="447.1" y1="965.0" x2="451.8" y2="965.0" stroke="#000" stroke-width="2.1" stroke-linecap="round"/>
<polygon points="442.5,961.1 445.8,965.0 442.5,968.9 439.2,965.0" fill="none" stroke="#000" stroke-width="1.1"/>
<text transform="translate(460.80,971.50) scale(1.04,1)" font-size="17.6">X349</text>
<line x1="429.9" y1="987.4" x2="455.2" y2="987.4" stroke="#000" stroke-width="2.1" stroke-linecap="round"/>
<circle cx="442.5" cy="987.4" r="4.1" fill="#000"/>
<text transform="translate(460.80,993.90) scale(1.04,1)" font-size="17.6">R2152</text>
<line x1="429.9" y1="1009.8" x2="455.2" y2="1009.8" stroke="#a6a6a6" stroke-width="2.1" stroke-linecap="round"/>
<rect x="438.4" y="1005.7" width="8.2" height="8.2" fill="#a6a6a6"/>
<text transform="translate(460.80,1016.30) scale(1.04,1)" font-size="17.6">R2202</text>
<line x1="429.9" y1="1032.2" x2="434.6" y2="1032.2" stroke="#ababab" stroke-width="2.1" stroke-linecap="round"/>
<line x1="438.6" y1="1032.2" x2="443.6" y2="1032.2" stroke="#ababab" stroke-width="2.1" stroke-linecap="round"/>
<line x1="447.1" y1="1032.2" x2="451.8" y2="1032.2" stroke="#ababab" stroke-width="2.1" stroke-linecap="round"/>
<rect x="438.8" y="1028.5" width="7.4" height="7.4" fill="none" stroke="#bdbdbd" stroke-width="1.1"/>
<text transform="translate(460.80,1038.70) scale(1.04,1)" font-size="17.6">R2203</text>
</svg>
</body></html>
